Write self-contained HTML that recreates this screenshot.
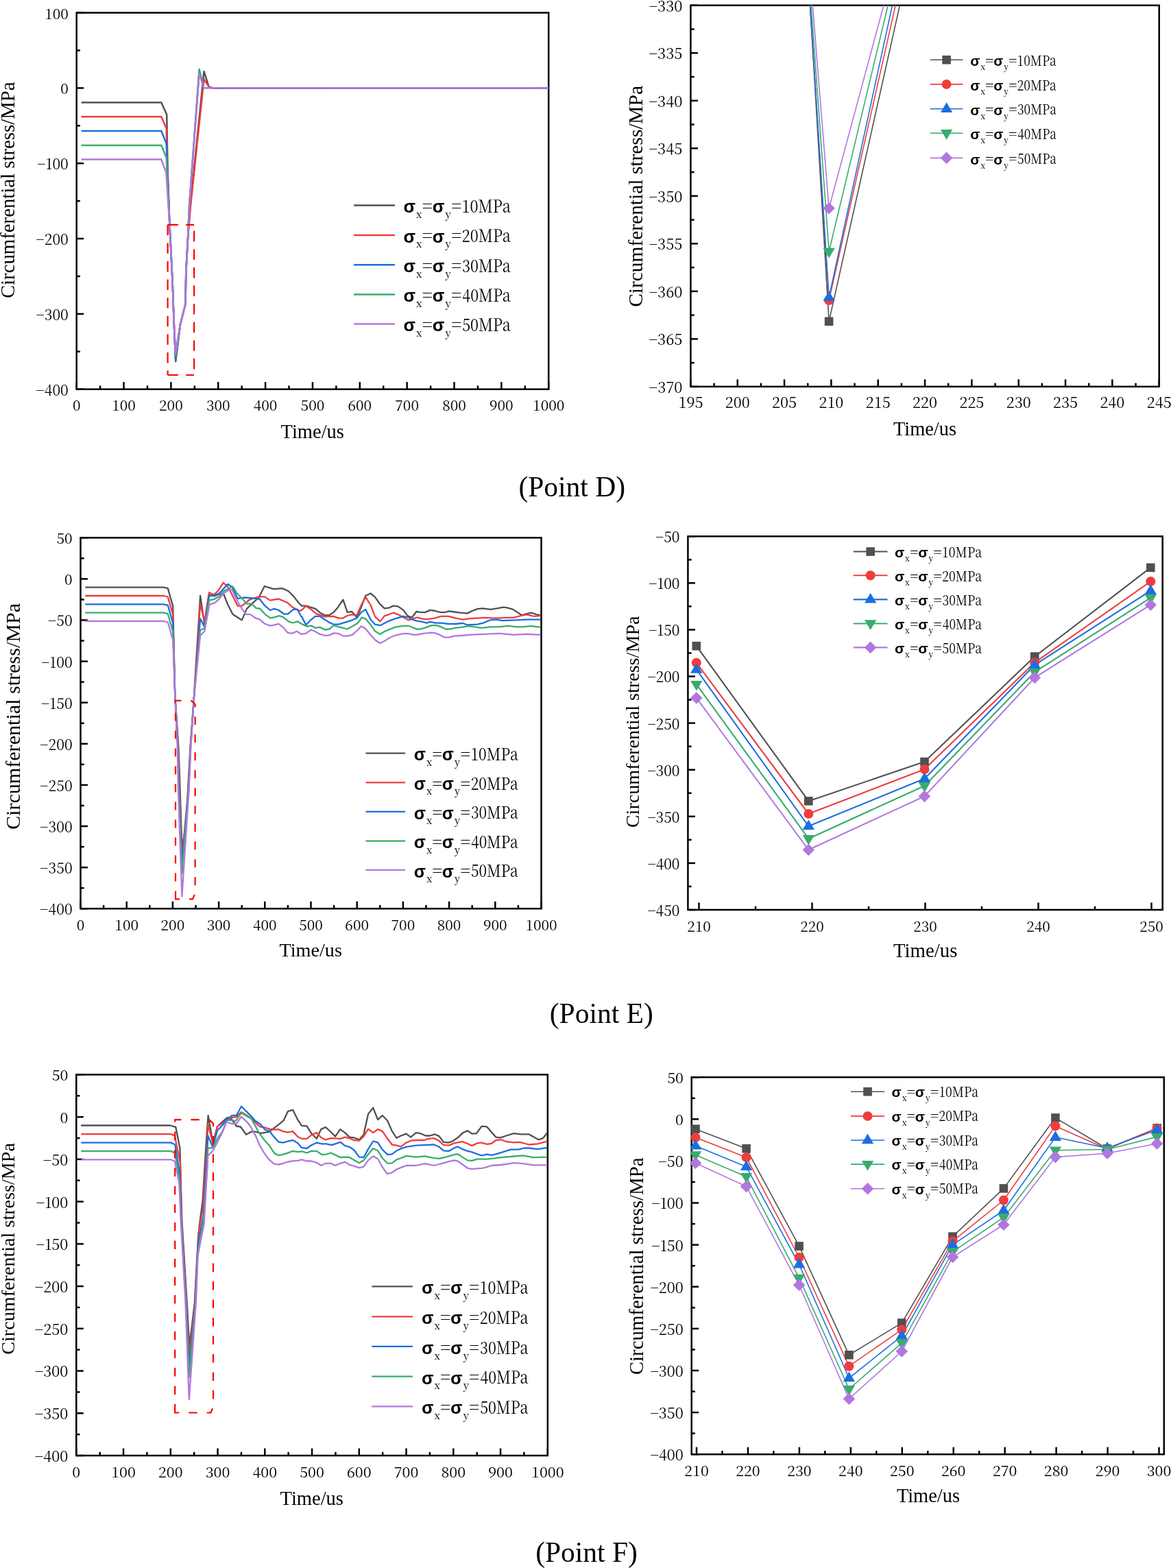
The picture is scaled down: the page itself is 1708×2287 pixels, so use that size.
<!DOCTYPE html>
<html><head><meta charset="utf-8"><title>Circumferential stress at points D, E, F</title>
<style>html,body{margin:0;padding:0;background:#fff;}svg{display:block;}</style></head>
<body><svg width="1708" height="2287" viewBox="0 0 1708 2287">
<rect width="1708" height="2287" fill="#fff"/>
<defs>
<clipPath id="k1"><rect x="111.7" y="18.6" width="688.5" height="549.1"/></clipPath>
<clipPath id="k2"><rect x="1007.4" y="7.8" width="683.3" height="556.1"/></clipPath>
<clipPath id="k3"><rect x="117.5" y="784.3" width="672" height="541"/></clipPath>
<clipPath id="k4"><rect x="1003.4" y="782.3" width="692.3" height="544.7"/></clipPath>
<clipPath id="k5"><rect x="111.3" y="1567.4" width="687.5" height="555.6"/></clipPath>
<clipPath id="k6"><rect x="1008.7" y="1571.2" width="689.1" height="550"/></clipPath>
<clipPath id="m6"><rect x="1007.5" y="1570" width="691.5" height="552.4"/></clipPath>
</defs>
<g stroke="#000" stroke-width="2.5" fill="none"><line x1="111.7" y1="567.7" x2="111.7" y2="557.2"/><line x1="146.12" y1="567.7" x2="146.12" y2="562.5"/><line x1="180.55" y1="567.7" x2="180.55" y2="557.2"/><line x1="214.98" y1="567.7" x2="214.98" y2="562.5"/><line x1="249.4" y1="567.7" x2="249.4" y2="557.2"/><line x1="283.82" y1="567.7" x2="283.82" y2="562.5"/><line x1="318.25" y1="567.7" x2="318.25" y2="557.2"/><line x1="352.68" y1="567.7" x2="352.68" y2="562.5"/><line x1="387.1" y1="567.7" x2="387.1" y2="557.2"/><line x1="421.52" y1="567.7" x2="421.52" y2="562.5"/><line x1="455.95" y1="567.7" x2="455.95" y2="557.2"/><line x1="490.38" y1="567.7" x2="490.38" y2="562.5"/><line x1="524.8" y1="567.7" x2="524.8" y2="557.2"/><line x1="559.23" y1="567.7" x2="559.23" y2="562.5"/><line x1="593.65" y1="567.7" x2="593.65" y2="557.2"/><line x1="628.08" y1="567.7" x2="628.08" y2="562.5"/><line x1="662.5" y1="567.7" x2="662.5" y2="557.2"/><line x1="696.93" y1="567.7" x2="696.93" y2="562.5"/><line x1="731.35" y1="567.7" x2="731.35" y2="557.2"/><line x1="765.78" y1="567.7" x2="765.78" y2="562.5"/><line x1="800.2" y1="567.7" x2="800.2" y2="557.2"/><line x1="111.7" y1="567.7" x2="122.2" y2="567.7"/><line x1="111.7" y1="512.79" x2="116.9" y2="512.79"/><line x1="111.7" y1="457.88" x2="122.2" y2="457.88"/><line x1="111.7" y1="402.97" x2="116.9" y2="402.97"/><line x1="111.7" y1="348.06" x2="122.2" y2="348.06"/><line x1="111.7" y1="293.15" x2="116.9" y2="293.15"/><line x1="111.7" y1="238.24" x2="122.2" y2="238.24"/><line x1="111.7" y1="183.33" x2="116.9" y2="183.33"/><line x1="111.7" y1="128.42" x2="122.2" y2="128.42"/><line x1="111.7" y1="73.51" x2="116.9" y2="73.51"/><line x1="111.7" y1="18.6" x2="122.2" y2="18.6"/></g>
<rect x="111.7" y="18.6" width="688.5" height="549.1" fill="none" stroke="#000" stroke-width="2.5"/>
<g font-family="'Noto Serif CJK SC','Liberation Serif',serif" font-size="21.0" fill="#000"><text x="111.7" y="599.2" text-anchor="middle">0</text><text x="180.55" y="599.2" text-anchor="middle">100</text><text x="249.4" y="599.2" text-anchor="middle">200</text><text x="318.25" y="599.2" text-anchor="middle">300</text><text x="387.1" y="599.2" text-anchor="middle">400</text><text x="455.95" y="599.2" text-anchor="middle">500</text><text x="524.8" y="599.2" text-anchor="middle">600</text><text x="593.65" y="599.2" text-anchor="middle">700</text><text x="662.5" y="599.2" text-anchor="middle">800</text><text x="731.35" y="599.2" text-anchor="middle">900</text><text x="800.2" y="599.2" text-anchor="middle">1000</text><text x="99.8" y="576.6" text-anchor="end">−400</text><text x="99.8" y="466.78" text-anchor="end">−300</text><text x="99.8" y="356.96" text-anchor="end">−200</text><text x="99.8" y="247.14" text-anchor="end">−100</text><text x="99.8" y="137.32" text-anchor="end">0</text><text x="99.8" y="27.5" text-anchor="end">100</text></g>
<g stroke="#000" stroke-width="2.5" fill="none"><line x1="1007.4" y1="563.9" x2="1007.4" y2="553.4"/><line x1="1041.57" y1="563.9" x2="1041.57" y2="558.7"/><line x1="1075.73" y1="563.9" x2="1075.73" y2="553.4"/><line x1="1109.89" y1="563.9" x2="1109.89" y2="558.7"/><line x1="1144.06" y1="563.9" x2="1144.06" y2="553.4"/><line x1="1178.23" y1="563.9" x2="1178.23" y2="558.7"/><line x1="1212.39" y1="563.9" x2="1212.39" y2="553.4"/><line x1="1246.56" y1="563.9" x2="1246.56" y2="558.7"/><line x1="1280.72" y1="563.9" x2="1280.72" y2="553.4"/><line x1="1314.89" y1="563.9" x2="1314.89" y2="558.7"/><line x1="1349.05" y1="563.9" x2="1349.05" y2="553.4"/><line x1="1383.22" y1="563.9" x2="1383.22" y2="558.7"/><line x1="1417.38" y1="563.9" x2="1417.38" y2="553.4"/><line x1="1451.55" y1="563.9" x2="1451.55" y2="558.7"/><line x1="1485.71" y1="563.9" x2="1485.71" y2="553.4"/><line x1="1519.88" y1="563.9" x2="1519.88" y2="558.7"/><line x1="1554.04" y1="563.9" x2="1554.04" y2="553.4"/><line x1="1588.21" y1="563.9" x2="1588.21" y2="558.7"/><line x1="1622.37" y1="563.9" x2="1622.37" y2="553.4"/><line x1="1656.54" y1="563.9" x2="1656.54" y2="558.7"/><line x1="1690.7" y1="563.9" x2="1690.7" y2="553.4"/><line x1="1007.4" y1="563.9" x2="1017.9" y2="563.9"/><line x1="1007.4" y1="529.14" x2="1012.6" y2="529.14"/><line x1="1007.4" y1="494.39" x2="1017.9" y2="494.39"/><line x1="1007.4" y1="459.63" x2="1012.6" y2="459.63"/><line x1="1007.4" y1="424.88" x2="1017.9" y2="424.88"/><line x1="1007.4" y1="390.12" x2="1012.6" y2="390.12"/><line x1="1007.4" y1="355.36" x2="1017.9" y2="355.36"/><line x1="1007.4" y1="320.61" x2="1012.6" y2="320.61"/><line x1="1007.4" y1="285.85" x2="1017.9" y2="285.85"/><line x1="1007.4" y1="251.09" x2="1012.6" y2="251.09"/><line x1="1007.4" y1="216.34" x2="1017.9" y2="216.34"/><line x1="1007.4" y1="181.58" x2="1012.6" y2="181.58"/><line x1="1007.4" y1="146.83" x2="1017.9" y2="146.83"/><line x1="1007.4" y1="112.07" x2="1012.6" y2="112.07"/><line x1="1007.4" y1="77.31" x2="1017.9" y2="77.31"/><line x1="1007.4" y1="42.56" x2="1012.6" y2="42.56"/><line x1="1007.4" y1="7.8" x2="1017.9" y2="7.8"/></g>
<rect x="1007.4" y="7.8" width="683.3" height="556.1" fill="none" stroke="#000" stroke-width="2.5"/>
<g font-family="'Noto Serif CJK SC','Liberation Serif',serif" font-size="21.8" fill="#000"><text x="1007.4" y="595.4" text-anchor="middle">195</text><text x="1075.73" y="595.4" text-anchor="middle">200</text><text x="1144.06" y="595.4" text-anchor="middle">205</text><text x="1212.39" y="595.4" text-anchor="middle">210</text><text x="1280.72" y="595.4" text-anchor="middle">215</text><text x="1349.05" y="595.4" text-anchor="middle">220</text><text x="1417.38" y="595.4" text-anchor="middle">225</text><text x="1485.71" y="595.4" text-anchor="middle">230</text><text x="1554.04" y="595.4" text-anchor="middle">235</text><text x="1622.37" y="595.4" text-anchor="middle">240</text><text x="1690.7" y="595.4" text-anchor="middle">245</text><text x="995.5" y="572.8" text-anchor="end">−370</text><text x="995.5" y="503.29" text-anchor="end">−365</text><text x="995.5" y="433.77" text-anchor="end">−360</text><text x="995.5" y="364.26" text-anchor="end">−355</text><text x="995.5" y="294.75" text-anchor="end">−350</text><text x="995.5" y="225.24" text-anchor="end">−345</text><text x="995.5" y="155.73" text-anchor="end">−340</text><text x="995.5" y="86.21" text-anchor="end">−335</text><text x="995.5" y="16.7" text-anchor="end">−330</text></g>
<g stroke="#000" stroke-width="2.5" fill="none"><line x1="117.5" y1="1325.3" x2="117.5" y2="1314.8"/><line x1="151.1" y1="1325.3" x2="151.1" y2="1320.1"/><line x1="184.7" y1="1325.3" x2="184.7" y2="1314.8"/><line x1="218.3" y1="1325.3" x2="218.3" y2="1320.1"/><line x1="251.9" y1="1325.3" x2="251.9" y2="1314.8"/><line x1="285.5" y1="1325.3" x2="285.5" y2="1320.1"/><line x1="319.1" y1="1325.3" x2="319.1" y2="1314.8"/><line x1="352.7" y1="1325.3" x2="352.7" y2="1320.1"/><line x1="386.3" y1="1325.3" x2="386.3" y2="1314.8"/><line x1="419.9" y1="1325.3" x2="419.9" y2="1320.1"/><line x1="453.5" y1="1325.3" x2="453.5" y2="1314.8"/><line x1="487.1" y1="1325.3" x2="487.1" y2="1320.1"/><line x1="520.7" y1="1325.3" x2="520.7" y2="1314.8"/><line x1="554.3" y1="1325.3" x2="554.3" y2="1320.1"/><line x1="587.9" y1="1325.3" x2="587.9" y2="1314.8"/><line x1="621.5" y1="1325.3" x2="621.5" y2="1320.1"/><line x1="655.1" y1="1325.3" x2="655.1" y2="1314.8"/><line x1="688.7" y1="1325.3" x2="688.7" y2="1320.1"/><line x1="722.3" y1="1325.3" x2="722.3" y2="1314.8"/><line x1="755.9" y1="1325.3" x2="755.9" y2="1320.1"/><line x1="789.5" y1="1325.3" x2="789.5" y2="1314.8"/><line x1="117.5" y1="1325.3" x2="128" y2="1325.3"/><line x1="117.5" y1="1295.24" x2="122.7" y2="1295.24"/><line x1="117.5" y1="1265.19" x2="128" y2="1265.19"/><line x1="117.5" y1="1235.13" x2="122.7" y2="1235.13"/><line x1="117.5" y1="1205.08" x2="128" y2="1205.08"/><line x1="117.5" y1="1175.02" x2="122.7" y2="1175.02"/><line x1="117.5" y1="1144.97" x2="128" y2="1144.97"/><line x1="117.5" y1="1114.91" x2="122.7" y2="1114.91"/><line x1="117.5" y1="1084.86" x2="128" y2="1084.86"/><line x1="117.5" y1="1054.8" x2="122.7" y2="1054.8"/><line x1="117.5" y1="1024.74" x2="128" y2="1024.74"/><line x1="117.5" y1="994.69" x2="122.7" y2="994.69"/><line x1="117.5" y1="964.63" x2="128" y2="964.63"/><line x1="117.5" y1="934.58" x2="122.7" y2="934.58"/><line x1="117.5" y1="904.52" x2="128" y2="904.52"/><line x1="117.5" y1="874.47" x2="122.7" y2="874.47"/><line x1="117.5" y1="844.41" x2="128" y2="844.41"/><line x1="117.5" y1="814.36" x2="122.7" y2="814.36"/><line x1="117.5" y1="784.3" x2="128" y2="784.3"/></g>
<rect x="117.5" y="784.3" width="672" height="541" fill="none" stroke="#000" stroke-width="2.5"/>
<g font-family="'Noto Serif CJK SC','Liberation Serif',serif" font-size="21.0" fill="#000"><text x="117.5" y="1356.8" text-anchor="middle">0</text><text x="184.7" y="1356.8" text-anchor="middle">100</text><text x="251.9" y="1356.8" text-anchor="middle">200</text><text x="319.1" y="1356.8" text-anchor="middle">300</text><text x="386.3" y="1356.8" text-anchor="middle">400</text><text x="453.5" y="1356.8" text-anchor="middle">500</text><text x="520.7" y="1356.8" text-anchor="middle">600</text><text x="587.9" y="1356.8" text-anchor="middle">700</text><text x="655.1" y="1356.8" text-anchor="middle">800</text><text x="722.3" y="1356.8" text-anchor="middle">900</text><text x="789.5" y="1356.8" text-anchor="middle">1000</text><text x="105.6" y="1334.2" text-anchor="end">−400</text><text x="105.6" y="1274.09" text-anchor="end">−350</text><text x="105.6" y="1213.98" text-anchor="end">−300</text><text x="105.6" y="1153.87" text-anchor="end">−250</text><text x="105.6" y="1093.76" text-anchor="end">−200</text><text x="105.6" y="1033.64" text-anchor="end">−150</text><text x="105.6" y="973.53" text-anchor="end">−100</text><text x="105.6" y="913.42" text-anchor="end">−50</text><text x="105.6" y="853.31" text-anchor="end">0</text><text x="105.6" y="793.2" text-anchor="end">50</text></g>
<g stroke="#000" stroke-width="2.5" fill="none"><line x1="1019.5" y1="1327" x2="1019.5" y2="1316.5"/><line x1="1102" y1="1327" x2="1102" y2="1321.8"/><line x1="1184.5" y1="1327" x2="1184.5" y2="1316.5"/><line x1="1267" y1="1327" x2="1267" y2="1321.8"/><line x1="1349.5" y1="1327" x2="1349.5" y2="1316.5"/><line x1="1432" y1="1327" x2="1432" y2="1321.8"/><line x1="1514.5" y1="1327" x2="1514.5" y2="1316.5"/><line x1="1597" y1="1327" x2="1597" y2="1321.8"/><line x1="1679.5" y1="1327" x2="1679.5" y2="1316.5"/><line x1="1003.4" y1="1327" x2="1013.9" y2="1327"/><line x1="1003.4" y1="1292.96" x2="1008.6" y2="1292.96"/><line x1="1003.4" y1="1258.91" x2="1013.9" y2="1258.91"/><line x1="1003.4" y1="1224.87" x2="1008.6" y2="1224.87"/><line x1="1003.4" y1="1190.83" x2="1013.9" y2="1190.83"/><line x1="1003.4" y1="1156.78" x2="1008.6" y2="1156.78"/><line x1="1003.4" y1="1122.74" x2="1013.9" y2="1122.74"/><line x1="1003.4" y1="1088.69" x2="1008.6" y2="1088.69"/><line x1="1003.4" y1="1054.65" x2="1013.9" y2="1054.65"/><line x1="1003.4" y1="1020.61" x2="1008.6" y2="1020.61"/><line x1="1003.4" y1="986.56" x2="1013.9" y2="986.56"/><line x1="1003.4" y1="952.52" x2="1008.6" y2="952.52"/><line x1="1003.4" y1="918.47" x2="1013.9" y2="918.47"/><line x1="1003.4" y1="884.43" x2="1008.6" y2="884.43"/><line x1="1003.4" y1="850.39" x2="1013.9" y2="850.39"/><line x1="1003.4" y1="816.34" x2="1008.6" y2="816.34"/><line x1="1003.4" y1="782.3" x2="1013.9" y2="782.3"/></g>
<rect x="1003.4" y="782.3" width="692.3" height="544.7" fill="none" stroke="#000" stroke-width="2.5"/>
<g font-family="'Noto Serif CJK SC','Liberation Serif',serif" font-size="20.9" fill="#000"><text x="1019.5" y="1358.5" text-anchor="middle">210</text><text x="1184.5" y="1358.5" text-anchor="middle">220</text><text x="1349.5" y="1358.5" text-anchor="middle">230</text><text x="1514.5" y="1358.5" text-anchor="middle">240</text><text x="1679.5" y="1358.5" text-anchor="middle">250</text><text x="991.5" y="1335.9" text-anchor="end">−450</text><text x="991.5" y="1267.81" text-anchor="end">−400</text><text x="991.5" y="1199.73" text-anchor="end">−350</text><text x="991.5" y="1131.64" text-anchor="end">−300</text><text x="991.5" y="1063.55" text-anchor="end">−250</text><text x="991.5" y="995.46" text-anchor="end">−200</text><text x="991.5" y="927.37" text-anchor="end">−150</text><text x="991.5" y="859.29" text-anchor="end">−100</text><text x="991.5" y="791.2" text-anchor="end">−50</text></g>
<g stroke="#000" stroke-width="2.5" fill="none"><line x1="111.3" y1="2123" x2="111.3" y2="2112.5"/><line x1="145.68" y1="2123" x2="145.68" y2="2117.8"/><line x1="180.05" y1="2123" x2="180.05" y2="2112.5"/><line x1="214.43" y1="2123" x2="214.43" y2="2117.8"/><line x1="248.8" y1="2123" x2="248.8" y2="2112.5"/><line x1="283.18" y1="2123" x2="283.18" y2="2117.8"/><line x1="317.55" y1="2123" x2="317.55" y2="2112.5"/><line x1="351.93" y1="2123" x2="351.93" y2="2117.8"/><line x1="386.3" y1="2123" x2="386.3" y2="2112.5"/><line x1="420.68" y1="2123" x2="420.68" y2="2117.8"/><line x1="455.05" y1="2123" x2="455.05" y2="2112.5"/><line x1="489.43" y1="2123" x2="489.43" y2="2117.8"/><line x1="523.8" y1="2123" x2="523.8" y2="2112.5"/><line x1="558.17" y1="2123" x2="558.17" y2="2117.8"/><line x1="592.55" y1="2123" x2="592.55" y2="2112.5"/><line x1="626.92" y1="2123" x2="626.92" y2="2117.8"/><line x1="661.3" y1="2123" x2="661.3" y2="2112.5"/><line x1="695.67" y1="2123" x2="695.67" y2="2117.8"/><line x1="730.05" y1="2123" x2="730.05" y2="2112.5"/><line x1="764.42" y1="2123" x2="764.42" y2="2117.8"/><line x1="798.8" y1="2123" x2="798.8" y2="2112.5"/><line x1="111.3" y1="2123" x2="121.8" y2="2123"/><line x1="111.3" y1="2092.13" x2="116.5" y2="2092.13"/><line x1="111.3" y1="2061.27" x2="121.8" y2="2061.27"/><line x1="111.3" y1="2030.4" x2="116.5" y2="2030.4"/><line x1="111.3" y1="1999.53" x2="121.8" y2="1999.53"/><line x1="111.3" y1="1968.67" x2="116.5" y2="1968.67"/><line x1="111.3" y1="1937.8" x2="121.8" y2="1937.8"/><line x1="111.3" y1="1906.93" x2="116.5" y2="1906.93"/><line x1="111.3" y1="1876.07" x2="121.8" y2="1876.07"/><line x1="111.3" y1="1845.2" x2="116.5" y2="1845.2"/><line x1="111.3" y1="1814.33" x2="121.8" y2="1814.33"/><line x1="111.3" y1="1783.47" x2="116.5" y2="1783.47"/><line x1="111.3" y1="1752.6" x2="121.8" y2="1752.6"/><line x1="111.3" y1="1721.73" x2="116.5" y2="1721.73"/><line x1="111.3" y1="1690.87" x2="121.8" y2="1690.87"/><line x1="111.3" y1="1660" x2="116.5" y2="1660"/><line x1="111.3" y1="1629.13" x2="121.8" y2="1629.13"/><line x1="111.3" y1="1598.27" x2="116.5" y2="1598.27"/><line x1="111.3" y1="1567.4" x2="121.8" y2="1567.4"/></g>
<rect x="111.3" y="1567.4" width="687.5" height="555.6" fill="none" stroke="#000" stroke-width="2.5"/>
<g font-family="'Noto Serif CJK SC','Liberation Serif',serif" font-size="21.6" fill="#000"><text x="111.3" y="2154.5" text-anchor="middle">0</text><text x="180.05" y="2154.5" text-anchor="middle">100</text><text x="248.8" y="2154.5" text-anchor="middle">200</text><text x="317.55" y="2154.5" text-anchor="middle">300</text><text x="386.3" y="2154.5" text-anchor="middle">400</text><text x="455.05" y="2154.5" text-anchor="middle">500</text><text x="523.8" y="2154.5" text-anchor="middle">600</text><text x="592.55" y="2154.5" text-anchor="middle">700</text><text x="661.3" y="2154.5" text-anchor="middle">800</text><text x="730.05" y="2154.5" text-anchor="middle">900</text><text x="798.8" y="2154.5" text-anchor="middle">1000</text><text x="99.4" y="2131.9" text-anchor="end">−400</text><text x="99.4" y="2070.17" text-anchor="end">−350</text><text x="99.4" y="2008.43" text-anchor="end">−300</text><text x="99.4" y="1946.7" text-anchor="end">−250</text><text x="99.4" y="1884.97" text-anchor="end">−200</text><text x="99.4" y="1823.23" text-anchor="end">−150</text><text x="99.4" y="1761.5" text-anchor="end">−100</text><text x="99.4" y="1699.77" text-anchor="end">−50</text><text x="99.4" y="1638.03" text-anchor="end">0</text><text x="99.4" y="1576.3" text-anchor="end">50</text></g>
<g stroke="#000" stroke-width="2.5" fill="none"><line x1="1016" y1="2121.2" x2="1016" y2="2110.7"/><line x1="1053.47" y1="2121.2" x2="1053.47" y2="2116"/><line x1="1090.94" y1="2121.2" x2="1090.94" y2="2110.7"/><line x1="1128.42" y1="2121.2" x2="1128.42" y2="2116"/><line x1="1165.89" y1="2121.2" x2="1165.89" y2="2110.7"/><line x1="1203.36" y1="2121.2" x2="1203.36" y2="2116"/><line x1="1240.83" y1="2121.2" x2="1240.83" y2="2110.7"/><line x1="1278.31" y1="2121.2" x2="1278.31" y2="2116"/><line x1="1315.78" y1="2121.2" x2="1315.78" y2="2110.7"/><line x1="1353.25" y1="2121.2" x2="1353.25" y2="2116"/><line x1="1390.72" y1="2121.2" x2="1390.72" y2="2110.7"/><line x1="1428.19" y1="2121.2" x2="1428.19" y2="2116"/><line x1="1465.67" y1="2121.2" x2="1465.67" y2="2110.7"/><line x1="1503.14" y1="2121.2" x2="1503.14" y2="2116"/><line x1="1540.61" y1="2121.2" x2="1540.61" y2="2110.7"/><line x1="1578.08" y1="2121.2" x2="1578.08" y2="2116"/><line x1="1615.56" y1="2121.2" x2="1615.56" y2="2110.7"/><line x1="1653.03" y1="2121.2" x2="1653.03" y2="2116"/><line x1="1690.5" y1="2121.2" x2="1690.5" y2="2110.7"/><line x1="1008.7" y1="2121.2" x2="1019.2" y2="2121.2"/><line x1="1008.7" y1="2090.64" x2="1013.9" y2="2090.64"/><line x1="1008.7" y1="2060.09" x2="1019.2" y2="2060.09"/><line x1="1008.7" y1="2029.53" x2="1013.9" y2="2029.53"/><line x1="1008.7" y1="1998.98" x2="1019.2" y2="1998.98"/><line x1="1008.7" y1="1968.42" x2="1013.9" y2="1968.42"/><line x1="1008.7" y1="1937.87" x2="1019.2" y2="1937.87"/><line x1="1008.7" y1="1907.31" x2="1013.9" y2="1907.31"/><line x1="1008.7" y1="1876.76" x2="1019.2" y2="1876.76"/><line x1="1008.7" y1="1846.2" x2="1013.9" y2="1846.2"/><line x1="1008.7" y1="1815.64" x2="1019.2" y2="1815.64"/><line x1="1008.7" y1="1785.09" x2="1013.9" y2="1785.09"/><line x1="1008.7" y1="1754.53" x2="1019.2" y2="1754.53"/><line x1="1008.7" y1="1723.98" x2="1013.9" y2="1723.98"/><line x1="1008.7" y1="1693.42" x2="1019.2" y2="1693.42"/><line x1="1008.7" y1="1662.87" x2="1013.9" y2="1662.87"/><line x1="1008.7" y1="1632.31" x2="1019.2" y2="1632.31"/><line x1="1008.7" y1="1601.76" x2="1013.9" y2="1601.76"/><line x1="1008.7" y1="1571.2" x2="1019.2" y2="1571.2"/></g>
<rect x="1008.7" y="1571.2" width="689.1" height="550" fill="none" stroke="#000" stroke-width="2.5"/>
<g font-family="'Noto Serif CJK SC','Liberation Serif',serif" font-size="21.5" fill="#000"><text x="1016" y="2152.7" text-anchor="middle">210</text><text x="1090.94" y="2152.7" text-anchor="middle">220</text><text x="1165.89" y="2152.7" text-anchor="middle">230</text><text x="1240.83" y="2152.7" text-anchor="middle">240</text><text x="1315.78" y="2152.7" text-anchor="middle">250</text><text x="1390.72" y="2152.7" text-anchor="middle">260</text><text x="1465.67" y="2152.7" text-anchor="middle">270</text><text x="1540.61" y="2152.7" text-anchor="middle">280</text><text x="1615.56" y="2152.7" text-anchor="middle">290</text><text x="1690.5" y="2152.7" text-anchor="middle">300</text><text x="996.8" y="2130.1" text-anchor="end">−400</text><text x="996.8" y="2068.99" text-anchor="end">−350</text><text x="996.8" y="2007.88" text-anchor="end">−300</text><text x="996.8" y="1946.77" text-anchor="end">−250</text><text x="996.8" y="1885.66" text-anchor="end">−200</text><text x="996.8" y="1824.54" text-anchor="end">−150</text><text x="996.8" y="1763.43" text-anchor="end">−100</text><text x="996.8" y="1702.32" text-anchor="end">−50</text><text x="996.8" y="1641.21" text-anchor="end">0</text><text x="996.8" y="1580.1" text-anchor="end">50</text></g>
<polyline points="118.6,149.4 235.3,149.4 243.2,166.9 244.6,250 247.4,327 251.6,411 253.7,470 256.2,527.2 262.8,474 270.5,443.3 271.3,397 274,348 277.6,300 297.5,104.2 304.6,126.6 311,128.4 800.2,128.4" fill="none" stroke="#505050" stroke-width="2.5" stroke-linejoin="round" clip-path="url(#k1)"/>
<polyline points="118.6,170.3 235.3,170.3 242.7,187.5 244.3,250 247.4,327 251.6,411 253.7,470 256.1,524.9 262.8,474 270.5,443.3 271.3,397 274,348 278,300 297.5,115.6 304.6,126.6 311,128.4 800.2,128.4" fill="none" stroke="#F03C3C" stroke-width="2.5" stroke-linejoin="round" clip-path="url(#k1)"/>
<polyline points="118.6,191.1 235.3,191.1 242.7,209.2 247.4,327 251.6,411 253.7,470 256.1,524.3 262.8,474 270.5,443.3 271.3,397 274,348 276.1,300 290.6,104 297,128 800.2,128.4" fill="none" stroke="#1A6FDF" stroke-width="2.5" stroke-linejoin="round" clip-path="url(#k1)"/>
<polyline points="118.6,211.9 235.3,211.9 242.7,229.8 247.4,327 251.6,411 253.7,470 256.1,519.3 262.8,474 270.5,443.3 271.3,397 274,348 276.1,300 290.6,100.9 297,128 800.2,128.4" fill="none" stroke="#37AD6B" stroke-width="2.5" stroke-linejoin="round" clip-path="url(#k1)"/>
<polyline points="118.6,232.6 235.3,232.6 242.3,251.5 247.4,327 251.6,411 253.7,470 256.1,514.2 262.8,474 270.5,443.3 271.3,397 274,348 276.1,300 290.6,107.1 297,128 800.2,128.4" fill="none" stroke="#B177DE" stroke-width="2.5" stroke-linejoin="round" clip-path="url(#k1)"/>
<path d="M244.6 327.8H283.1 M244.6 327.8V547 M244.6 547H283.1 M283.1 336.8V547" fill="none" stroke="#FF0000" stroke-width="2.2" stroke-dasharray="15.4 11.2"/>
<text x="409.48" y="639.2" font-family="'Liberation Serif','Times New Roman',serif" font-size="28.54" fill="#000">Time/us</text>
<text transform="translate(20.9,435.08) rotate(-90)" font-family="'Liberation Serif','Times New Roman',serif" font-size="28.78" fill="#000">Circumferential stress/MPa</text>
<line x1="516" y1="299.6" x2="576" y2="299.6" stroke="#505050" stroke-width="2.5"/>
<g font-family="'Noto Serif CJK SC','Liberation Serif',serif" fill="#000"><text x="597.22" y="310.3" text-anchor="middle" font-family="'Liberation Sans','DejaVu Sans',sans-serif" font-weight="bold" font-size="25.73">σ</text><text x="611.32" y="317.96" text-anchor="middle" font-size="15.04">x</text><text x="623.34" y="309.9" text-anchor="middle" font-size="25.93">=</text><text x="639.46" y="310.3" text-anchor="middle" font-family="'Liberation Sans','DejaVu Sans',sans-serif" font-weight="bold" font-size="25.73">σ</text><text x="653.64" y="317.96" text-anchor="middle" font-size="15.04">y</text><text x="665.65" y="309.9" text-anchor="middle" font-size="25.93">=</text><text x="673.54" y="309.9" font-size="25.93" textLength="71.38" lengthAdjust="spacingAndGlyphs">10MPa</text></g>
<line x1="516" y1="343" x2="576" y2="343" stroke="#F03C3C" stroke-width="2.5"/>
<g font-family="'Noto Serif CJK SC','Liberation Serif',serif" fill="#000"><text x="597.22" y="353.7" text-anchor="middle" font-family="'Liberation Sans','DejaVu Sans',sans-serif" font-weight="bold" font-size="25.73">σ</text><text x="611.32" y="361.36" text-anchor="middle" font-size="15.04">x</text><text x="623.34" y="353.3" text-anchor="middle" font-size="25.93">=</text><text x="639.46" y="353.7" text-anchor="middle" font-family="'Liberation Sans','DejaVu Sans',sans-serif" font-weight="bold" font-size="25.73">σ</text><text x="653.64" y="361.36" text-anchor="middle" font-size="15.04">y</text><text x="665.65" y="353.3" text-anchor="middle" font-size="25.93">=</text><text x="673.72" y="353.3" font-size="25.93" textLength="71.2" lengthAdjust="spacingAndGlyphs">20MPa</text></g>
<line x1="516" y1="386.2" x2="576" y2="386.2" stroke="#1A6FDF" stroke-width="2.5"/>
<g font-family="'Noto Serif CJK SC','Liberation Serif',serif" fill="#000"><text x="597.22" y="396.9" text-anchor="middle" font-family="'Liberation Sans','DejaVu Sans',sans-serif" font-weight="bold" font-size="25.73">σ</text><text x="611.32" y="404.56" text-anchor="middle" font-size="15.04">x</text><text x="623.34" y="396.5" text-anchor="middle" font-size="25.93">=</text><text x="639.46" y="396.9" text-anchor="middle" font-family="'Liberation Sans','DejaVu Sans',sans-serif" font-weight="bold" font-size="25.73">σ</text><text x="653.64" y="404.56" text-anchor="middle" font-size="15.04">y</text><text x="665.65" y="396.5" text-anchor="middle" font-size="25.93">=</text><text x="674.09" y="396.5" font-size="25.93" textLength="70.82" lengthAdjust="spacingAndGlyphs">30MPa</text></g>
<line x1="516" y1="429.4" x2="576" y2="429.4" stroke="#37AD6B" stroke-width="2.5"/>
<g font-family="'Noto Serif CJK SC','Liberation Serif',serif" fill="#000"><text x="597.22" y="440.1" text-anchor="middle" font-family="'Liberation Sans','DejaVu Sans',sans-serif" font-weight="bold" font-size="25.73">σ</text><text x="611.32" y="447.76" text-anchor="middle" font-size="15.04">x</text><text x="623.34" y="439.7" text-anchor="middle" font-size="25.93">=</text><text x="639.46" y="440.1" text-anchor="middle" font-family="'Liberation Sans','DejaVu Sans',sans-serif" font-weight="bold" font-size="25.73">σ</text><text x="653.64" y="447.76" text-anchor="middle" font-size="15.04">y</text><text x="665.65" y="439.7" text-anchor="middle" font-size="25.93">=</text><text x="674.37" y="439.7" font-size="25.93" textLength="70.54" lengthAdjust="spacingAndGlyphs">40MPa</text></g>
<line x1="516" y1="472.6" x2="576" y2="472.6" stroke="#B177DE" stroke-width="2.5"/>
<g font-family="'Noto Serif CJK SC','Liberation Serif',serif" fill="#000"><text x="597.22" y="483.3" text-anchor="middle" font-family="'Liberation Sans','DejaVu Sans',sans-serif" font-weight="bold" font-size="25.73">σ</text><text x="611.32" y="490.96" text-anchor="middle" font-size="15.04">x</text><text x="623.34" y="482.9" text-anchor="middle" font-size="25.93">=</text><text x="639.46" y="483.3" text-anchor="middle" font-family="'Liberation Sans','DejaVu Sans',sans-serif" font-weight="bold" font-size="25.73">σ</text><text x="653.64" y="490.96" text-anchor="middle" font-size="15.04">y</text><text x="665.65" y="482.9" text-anchor="middle" font-size="25.93">=</text><text x="674.16" y="482.9" font-size="25.93" textLength="70.76" lengthAdjust="spacingAndGlyphs">50MPa</text></g>
<polyline points="1177.56,-60 1209.1,468.8 1327.59,-60" fill="none" stroke="#505050" stroke-width="1.6" stroke-linejoin="round" clip-path="url(#k2)"/>
<polyline points="1177.27,-60 1209.1,438 1321.39,-60" fill="none" stroke="#F03C3C" stroke-width="1.6" stroke-linejoin="round" clip-path="url(#k2)"/>
<polyline points="1177.22,-60 1209.1,433.8 1316.21,-60" fill="none" stroke="#1A6FDF" stroke-width="1.6" stroke-linejoin="round" clip-path="url(#k2)"/>
<polyline points="1178.19,-60 1209.1,367 1311.45,-60" fill="none" stroke="#37AD6B" stroke-width="1.6" stroke-linejoin="round" clip-path="url(#k2)"/>
<polyline points="1179.85,-60 1209.1,303.7 1307.18,-60" fill="none" stroke="#B177DE" stroke-width="1.6" stroke-linejoin="round" clip-path="url(#k2)"/>
<rect x="1202.8" y="462.5" width="12.6" height="12.6" fill="#505050"/>
<circle cx="1209.1" cy="438" r="7" fill="#F03C3C"/>
<path d="M1209.1 424.3L1217.8 439L1200.4 439Z" fill="#1A6FDF"/>
<path d="M1209.1 376.5L1217.8 361.8L1200.4 361.8Z" fill="#37AD6B"/>
<path d="M1209.1 294.9L1217.9 303.7L1209.1 312.5L1200.3 303.7Z" fill="#B177DE"/>
<text x="1302.99" y="634.8" font-family="'Liberation Serif','Times New Roman',serif" font-size="28.39" fill="#000">Time/us</text>
<text transform="translate(937.1,447.81) rotate(-90)" font-family="'Liberation Serif','Times New Roman',serif" font-size="29.43" fill="#000">Circumferential stress/MPa</text>
<line x1="1356.7" y1="87.3" x2="1404.5" y2="87.3" stroke="#505050" stroke-width="1.6"/>
<rect x="1374.3" y="81" width="12.6" height="12.6" fill="#505050"/>
<g font-family="'Noto Serif CJK SC','Liberation Serif',serif" fill="#000"><text x="1422.33" y="96.4" text-anchor="middle" font-family="'Liberation Sans','DejaVu Sans',sans-serif" font-weight="bold" font-size="20.65">σ</text><text x="1433.65" y="102.47" text-anchor="middle" font-size="12.07">x</text><text x="1443.29" y="96" text-anchor="middle" font-size="20.81">=</text><text x="1456.23" y="96.4" text-anchor="middle" font-family="'Liberation Sans','DejaVu Sans',sans-serif" font-weight="bold" font-size="20.65">σ</text><text x="1467.62" y="102.47" text-anchor="middle" font-size="12.07">y</text><text x="1477.26" y="96" text-anchor="middle" font-size="20.81">=</text><text x="1483.59" y="96" font-size="20.81" textLength="57.29" lengthAdjust="spacingAndGlyphs">10MPa</text></g>
<line x1="1356.7" y1="122.9" x2="1404.5" y2="122.9" stroke="#F03C3C" stroke-width="1.6"/>
<circle cx="1380.6" cy="122.9" r="7" fill="#F03C3C"/>
<g font-family="'Noto Serif CJK SC','Liberation Serif',serif" fill="#000"><text x="1422.33" y="132" text-anchor="middle" font-family="'Liberation Sans','DejaVu Sans',sans-serif" font-weight="bold" font-size="20.65">σ</text><text x="1433.65" y="138.07" text-anchor="middle" font-size="12.07">x</text><text x="1443.29" y="131.6" text-anchor="middle" font-size="20.81">=</text><text x="1456.23" y="132" text-anchor="middle" font-family="'Liberation Sans','DejaVu Sans',sans-serif" font-weight="bold" font-size="20.65">σ</text><text x="1467.62" y="138.07" text-anchor="middle" font-size="12.07">y</text><text x="1477.26" y="131.6" text-anchor="middle" font-size="20.81">=</text><text x="1483.73" y="131.6" font-size="20.81" textLength="57.14" lengthAdjust="spacingAndGlyphs">20MPa</text></g>
<line x1="1356.7" y1="158.7" x2="1404.5" y2="158.7" stroke="#1A6FDF" stroke-width="1.6"/>
<path d="M1380.6 149.2L1389.3 163.9L1371.9 163.9Z" fill="#1A6FDF"/>
<g font-family="'Noto Serif CJK SC','Liberation Serif',serif" fill="#000"><text x="1422.33" y="167.8" text-anchor="middle" font-family="'Liberation Sans','DejaVu Sans',sans-serif" font-weight="bold" font-size="20.65">σ</text><text x="1433.65" y="173.87" text-anchor="middle" font-size="12.07">x</text><text x="1443.29" y="167.4" text-anchor="middle" font-size="20.81">=</text><text x="1456.23" y="167.8" text-anchor="middle" font-family="'Liberation Sans','DejaVu Sans',sans-serif" font-weight="bold" font-size="20.65">σ</text><text x="1467.62" y="173.87" text-anchor="middle" font-size="12.07">y</text><text x="1477.26" y="167.4" text-anchor="middle" font-size="20.81">=</text><text x="1484.03" y="167.4" font-size="20.81" textLength="56.84" lengthAdjust="spacingAndGlyphs">30MPa</text></g>
<line x1="1356.7" y1="194.3" x2="1404.5" y2="194.3" stroke="#37AD6B" stroke-width="1.6"/>
<path d="M1380.6 203.8L1389.3 189.1L1371.9 189.1Z" fill="#37AD6B"/>
<g font-family="'Noto Serif CJK SC','Liberation Serif',serif" fill="#000"><text x="1422.33" y="203.4" text-anchor="middle" font-family="'Liberation Sans','DejaVu Sans',sans-serif" font-weight="bold" font-size="20.65">σ</text><text x="1433.65" y="209.47" text-anchor="middle" font-size="12.07">x</text><text x="1443.29" y="203" text-anchor="middle" font-size="20.81">=</text><text x="1456.23" y="203.4" text-anchor="middle" font-family="'Liberation Sans','DejaVu Sans',sans-serif" font-weight="bold" font-size="20.65">σ</text><text x="1467.62" y="209.47" text-anchor="middle" font-size="12.07">y</text><text x="1477.26" y="203" text-anchor="middle" font-size="20.81">=</text><text x="1484.26" y="203" font-size="20.81" textLength="56.61" lengthAdjust="spacingAndGlyphs">40MPa</text></g>
<line x1="1356.7" y1="230.4" x2="1404.5" y2="230.4" stroke="#B177DE" stroke-width="1.6"/>
<path d="M1380.6 221.6L1389.4 230.4L1380.6 239.2L1371.8 230.4Z" fill="#B177DE"/>
<g font-family="'Noto Serif CJK SC','Liberation Serif',serif" fill="#000"><text x="1422.33" y="239.5" text-anchor="middle" font-family="'Liberation Sans','DejaVu Sans',sans-serif" font-weight="bold" font-size="20.65">σ</text><text x="1433.65" y="245.57" text-anchor="middle" font-size="12.07">x</text><text x="1443.29" y="239.1" text-anchor="middle" font-size="20.81">=</text><text x="1456.23" y="239.5" text-anchor="middle" font-family="'Liberation Sans','DejaVu Sans',sans-serif" font-weight="bold" font-size="20.65">σ</text><text x="1467.62" y="245.57" text-anchor="middle" font-size="12.07">y</text><text x="1477.26" y="239.1" text-anchor="middle" font-size="20.81">=</text><text x="1484.08" y="239.1" font-size="20.81" textLength="56.79" lengthAdjust="spacingAndGlyphs">50MPa</text></g>
<polyline points="124.2,856.6 238.6,856.6 244.8,858.1 252.2,884.1 255.3,1015 260.4,1090 262.6,1150 265.4,1238 272.2,1195 274.2,1150 277.5,1090 283,1015 292.1,869 298.3,910.6 304.5,867.3 312.7,869.4 320,866.3 326.1,866.3 332.3,881.7 339.5,896.1 352.8,904.4 360,887.9 367.3,880.7 377.5,871.5 385.8,855 399.2,859.1 411.5,858.1 420.8,862.2 428,869.4 435.2,878.7 440,883.6 446.4,883.6 460.1,887.8 467.5,894.2 473.9,897.3 480.3,897.3 486.6,893.1 493,885.7 500.4,874.7 506.7,893.1 513.1,892 520.5,900.5 526.9,885.7 533.2,868.7 540.6,865.5 547,870.8 554.4,881.4 560.8,887.4 567.1,886.7 573.5,883.6 580.9,884.6 588.3,889.9 594.7,898.4 601,900.5 607.4,892 613.7,893.1 620.1,893.1 627.5,889.9 634.9,891 642.3,893.1 648.7,893.1 655,891.4 662.5,892.5 670.9,893.7 681.5,894.6 688.9,891 696.4,888.2 703.8,887.4 715.4,888.9 725,887.4 734.5,885.7 740.8,886.7 748.3,888.9 754.6,893.1 761,897.3 768.4,895.2 775.8,893.7 782.2,896.3 788.5,897.3" fill="none" stroke="#505050" stroke-width="2.3" stroke-linejoin="round" clip-path="url(#k3)"/>
<polyline points="124.2,869 238.6,869 244.8,870.5 252.2,896.5 255.3,1015 259.92,1090 261.79,1150 265.4,1254 274.65,1150 277.74,1090 283.1,1015.6 292.1,880.7 298.3,906.4 305.1,864.2 311.7,867.3 317.9,862.2 325.7,849.8 332.3,856 338.4,867.3 346.7,883.8 352.8,883.8 364.2,874.5 377.5,870.4 385.8,870.4 394,875.6 406.4,873.5 418.7,878.7 426.9,885.9 437.2,891 440,889.9 446.4,884 453.8,888.9 461.2,895.2 467.5,897.3 473.9,899.4 486.6,898.8 494,901.6 500.4,901.6 506.7,898 513.1,896.3 520.5,897.3 526.9,882.5 533.2,870.8 540.6,882.5 547,899.4 554.4,906.4 560.8,898.4 567.1,896.3 573.5,893.7 580.9,896.3 588.3,900.5 595.7,904.3 602.1,902.6 608.4,900.5 615.8,902.6 622.2,903.3 633.9,901.6 643.4,898.8 654,898.8 664.6,901.6 675.2,903.7 685.8,902.2 707,900.9 723.9,901.6 736.6,900.9 749.3,900.9 759.9,898 768.4,896.3 779,898.8 788.5,898" fill="none" stroke="#F03C3C" stroke-width="2.3" stroke-linejoin="round" clip-path="url(#k3)"/>
<polyline points="124.2,881.3 238.6,881.3 244.8,882.8 252.2,908.8 255.3,1015 259.52,1090 261.12,1150 265.4,1264 275.02,1150 277.94,1090 283.1,1015.6 292.1,902.3 298.3,914.7 305.1,869.4 312.7,868.4 320,865.3 332.3,851.9 338.4,856 346.7,873.1 357,871.5 367.3,872.5 378.6,873.5 385.8,882.8 394,890 400.2,887.9 406.4,890 414.6,895.7 419.7,895.7 428,888.9 434.1,888.9 439.3,899.2 440,899.4 446.4,911.5 452.7,904.7 460.1,898.8 466.5,898.8 473.9,903.7 480.3,907.9 486.6,910.7 494,910.7 500.4,908.6 507.8,906.4 514.2,904.3 520.5,901.6 526.9,893.1 533.2,888.9 540.6,903.7 547,910.7 554.4,912.2 560.8,909 567.1,905.8 575.6,902.6 588.3,898.8 595.7,900.5 603.1,904.3 609.5,905.8 615.8,906.9 622.2,908.6 627.5,906.9 634.9,908.6 643.4,908.6 654,910 664.6,910 675.2,909 681.5,911.5 696.4,910.7 704.8,908.6 715.4,904.3 723.9,903.7 732.4,905.2 747.2,904.7 768.4,903.7 788.5,903.7" fill="none" stroke="#1A6FDF" stroke-width="2.3" stroke-linejoin="round" clip-path="url(#k3)"/>
<polyline points="124.2,893.7 238.6,893.7 244.8,895.2 252.2,921.2 255.3,1015 259.2,1090 260.57,1150 265.4,1274 275.32,1150 278.1,1090 283.1,1015.6 292.1,918.8 298.3,916.7 305.1,875.6 312.7,873.9 320,869.4 326.1,862.2 339.5,855.4 345.6,865.3 352.8,872.5 360,880.7 367.3,880.7 373.4,886.9 379.6,887.9 385.8,895.1 394,901.3 400.2,900.3 407.4,898.2 413.6,900.3 420.8,906.4 426.9,908.5 434.1,906.4 440,910 447.4,913.6 453.8,912.6 460.1,915.8 466.5,914.9 473.9,918.5 480.3,917.5 486.6,912.2 494,914.3 500.4,915.8 506.7,917.5 514.2,913.2 521.6,909 527.9,900.5 533.2,902.6 540.6,911.1 547,920.6 554.4,924.9 561.8,920.6 569.2,917.5 577.7,914.3 588.3,912.8 595.7,912.8 602.1,915.3 608.4,917.9 615.8,917 622.2,914.9 629.6,912.2 637,912.2 643.4,914.3 649.7,917.5 657.2,917.5 663.5,915.8 673,914.9 683.6,913.2 692.1,914.3 702.7,915.8 715.4,914.3 728.1,914.3 740.8,912.8 753.6,914.3 762,914.3 774.7,913.2 788.5,914.9" fill="none" stroke="#37AD6B" stroke-width="2.3" stroke-linejoin="round" clip-path="url(#k3)"/>
<polyline points="124.2,906 238.6,906 244.8,907.5 252.2,933.5 255.3,1015 258.8,1090 259.9,1150 265.4,1307.5 275.7,1150 278.3,1090 283.1,1015.6 292.1,927 298.3,920.8 305.5,881.7 312.7,879.7 318.9,874.5 326.1,865.3 332.3,861.2 338.4,860.1 346.7,877.6 352.8,887.9 359,896.1 365.2,896.1 372.4,901.3 378.6,903.4 385.8,909.5 394,912.6 400.2,911.6 406.4,909.9 413.6,915.7 419.7,922.9 425.9,923.9 433.1,920.8 439.3,925 440,924.9 446.4,923.8 453.8,918.5 460.1,921.3 466.5,924.9 473.9,927 480.3,926.6 486.6,923.4 494,924.2 500.4,927.6 507.8,927.6 514.2,925.9 520.5,920 526.9,913.2 533.2,917 540.6,925.9 547,933.3 554.4,938.2 561.8,934.4 569.2,929.7 575.6,927 588.3,924.2 595.7,924.2 603.1,925.9 609.5,925.5 618,923.8 628.6,922.8 634.9,923.4 641.3,925.9 648.7,929.7 655,929.7 662.5,927.6 673,927 685.8,925.9 707,924.9 728.1,923.8 749.3,925.9 766.3,924.9 788.5,925.9" fill="none" stroke="#B177DE" stroke-width="2.3" stroke-linejoin="round" clip-path="url(#k3)"/>
<path d="M256 1311.4V1021.9 H278.6 L284.6 1027.3 V1303 L281 1311.4 Z" fill="none" stroke="#FF0000" stroke-width="2.2" stroke-dasharray="12 14" stroke-dashoffset="0"/>
<text x="407.59" y="1395" font-family="'Liberation Serif','Times New Roman',serif" font-size="28.17" fill="#000">Time/us</text>
<text transform="translate(29.3,1210.03) rotate(-90)" font-family="'Liberation Serif','Times New Roman',serif" font-size="30.1" fill="#000">Circumferential stress/MPa</text>
<line x1="533.4" y1="1098.6" x2="591.1" y2="1098.6" stroke="#505050" stroke-width="2.3"/>
<g font-family="'Noto Serif CJK SC','Liberation Serif',serif" fill="#000"><text x="612.3" y="1109.2" text-anchor="middle" font-family="'Liberation Sans','DejaVu Sans',sans-serif" font-weight="bold" font-size="25">σ</text><text x="626.01" y="1116.63" text-anchor="middle" font-size="14.61">x</text><text x="637.68" y="1108.8" text-anchor="middle" font-size="25.19">=</text><text x="653.34" y="1109.2" text-anchor="middle" font-family="'Liberation Sans','DejaVu Sans',sans-serif" font-weight="bold" font-size="25">σ</text><text x="667.12" y="1116.63" text-anchor="middle" font-size="14.61">y</text><text x="678.79" y="1108.8" text-anchor="middle" font-size="25.19">=</text><text x="686.46" y="1108.8" font-size="25.19" textLength="69.35" lengthAdjust="spacingAndGlyphs">10MPa</text></g>
<line x1="533.4" y1="1141.4" x2="591.1" y2="1141.4" stroke="#F03C3C" stroke-width="2.3"/>
<g font-family="'Noto Serif CJK SC','Liberation Serif',serif" fill="#000"><text x="612.3" y="1152" text-anchor="middle" font-family="'Liberation Sans','DejaVu Sans',sans-serif" font-weight="bold" font-size="25">σ</text><text x="626.01" y="1159.43" text-anchor="middle" font-size="14.61">x</text><text x="637.68" y="1151.6" text-anchor="middle" font-size="25.19">=</text><text x="653.34" y="1152" text-anchor="middle" font-family="'Liberation Sans','DejaVu Sans',sans-serif" font-weight="bold" font-size="25">σ</text><text x="667.12" y="1159.43" text-anchor="middle" font-size="14.61">y</text><text x="678.79" y="1151.6" text-anchor="middle" font-size="25.19">=</text><text x="686.63" y="1151.6" font-size="25.19" textLength="69.18" lengthAdjust="spacingAndGlyphs">20MPa</text></g>
<line x1="533.4" y1="1183.9" x2="591.1" y2="1183.9" stroke="#1A6FDF" stroke-width="2.3"/>
<g font-family="'Noto Serif CJK SC','Liberation Serif',serif" fill="#000"><text x="612.3" y="1194.5" text-anchor="middle" font-family="'Liberation Sans','DejaVu Sans',sans-serif" font-weight="bold" font-size="25">σ</text><text x="626.01" y="1201.93" text-anchor="middle" font-size="14.61">x</text><text x="637.68" y="1194.1" text-anchor="middle" font-size="25.19">=</text><text x="653.34" y="1194.5" text-anchor="middle" font-family="'Liberation Sans','DejaVu Sans',sans-serif" font-weight="bold" font-size="25">σ</text><text x="667.12" y="1201.93" text-anchor="middle" font-size="14.61">y</text><text x="678.79" y="1194.1" text-anchor="middle" font-size="25.19">=</text><text x="687" y="1194.1" font-size="25.19" textLength="68.81" lengthAdjust="spacingAndGlyphs">30MPa</text></g>
<line x1="533.4" y1="1226.7" x2="591.1" y2="1226.7" stroke="#37AD6B" stroke-width="2.3"/>
<g font-family="'Noto Serif CJK SC','Liberation Serif',serif" fill="#000"><text x="612.3" y="1237.3" text-anchor="middle" font-family="'Liberation Sans','DejaVu Sans',sans-serif" font-weight="bold" font-size="25">σ</text><text x="626.01" y="1244.73" text-anchor="middle" font-size="14.61">x</text><text x="637.68" y="1236.9" text-anchor="middle" font-size="25.19">=</text><text x="653.34" y="1237.3" text-anchor="middle" font-family="'Liberation Sans','DejaVu Sans',sans-serif" font-weight="bold" font-size="25">σ</text><text x="667.12" y="1244.73" text-anchor="middle" font-size="14.61">y</text><text x="678.79" y="1236.9" text-anchor="middle" font-size="25.19">=</text><text x="687.27" y="1236.9" font-size="25.19" textLength="68.54" lengthAdjust="spacingAndGlyphs">40MPa</text></g>
<line x1="533.4" y1="1268.9" x2="591.1" y2="1268.9" stroke="#B177DE" stroke-width="2.3"/>
<g font-family="'Noto Serif CJK SC','Liberation Serif',serif" fill="#000"><text x="612.3" y="1279.5" text-anchor="middle" font-family="'Liberation Sans','DejaVu Sans',sans-serif" font-weight="bold" font-size="25">σ</text><text x="626.01" y="1286.93" text-anchor="middle" font-size="14.61">x</text><text x="637.68" y="1279.1" text-anchor="middle" font-size="25.19">=</text><text x="653.34" y="1279.5" text-anchor="middle" font-family="'Liberation Sans','DejaVu Sans',sans-serif" font-weight="bold" font-size="25">σ</text><text x="667.12" y="1286.93" text-anchor="middle" font-size="14.61">y</text><text x="678.79" y="1279.1" text-anchor="middle" font-size="25.19">=</text><text x="687.06" y="1279.1" font-size="25.19" textLength="68.75" lengthAdjust="spacingAndGlyphs">50MPa</text></g>
<polyline points="1015.8,942.2 1179.3,1168.4 1348.5,1111.1 1509.2,957.6 1678.3,827.9" fill="none" stroke="#505050" stroke-width="2.1" stroke-linejoin="round" clip-path="url(#k4)"/>
<polyline points="1015.8,966.7 1179.3,1187 1348.5,1122 1509.2,966.3 1678.3,848.1" fill="none" stroke="#F03C3C" stroke-width="2.1" stroke-linejoin="round" clip-path="url(#k4)"/>
<polyline points="1015.8,976.5 1179.3,1205 1348.5,1135.8 1509.2,969.8 1678.3,861.7" fill="none" stroke="#1A6FDF" stroke-width="2.1" stroke-linejoin="round" clip-path="url(#k4)"/>
<polyline points="1015.8,998.1 1179.3,1223.2 1348.5,1146.2 1509.2,980.2 1678.3,871.9" fill="none" stroke="#37AD6B" stroke-width="2.1" stroke-linejoin="round" clip-path="url(#k4)"/>
<polyline points="1015.8,1018 1179.3,1239.5 1348.5,1161.4 1509.2,988.4 1678.3,882.2" fill="none" stroke="#B177DE" stroke-width="2.1" stroke-linejoin="round" clip-path="url(#k4)"/>
<rect x="1009.5" y="935.9" width="12.6" height="12.6" fill="#505050"/>
<rect x="1173" y="1162.1" width="12.6" height="12.6" fill="#505050"/>
<rect x="1342.2" y="1104.8" width="12.6" height="12.6" fill="#505050"/>
<rect x="1502.9" y="951.3" width="12.6" height="12.6" fill="#505050"/>
<rect x="1672" y="821.6" width="12.6" height="12.6" fill="#505050"/>
<circle cx="1015.8" cy="966.7" r="7" fill="#F03C3C"/>
<circle cx="1179.3" cy="1187" r="7" fill="#F03C3C"/>
<circle cx="1348.5" cy="1122" r="7" fill="#F03C3C"/>
<circle cx="1509.2" cy="966.3" r="7" fill="#F03C3C"/>
<circle cx="1678.3" cy="848.1" r="7" fill="#F03C3C"/>
<path d="M1015.8 967L1024.5 981.7L1007.1 981.7Z" fill="#1A6FDF"/>
<path d="M1179.3 1195.5L1188 1210.2L1170.6 1210.2Z" fill="#1A6FDF"/>
<path d="M1348.5 1126.3L1357.2 1141L1339.8 1141Z" fill="#1A6FDF"/>
<path d="M1509.2 960.3L1517.9 975L1500.5 975Z" fill="#1A6FDF"/>
<path d="M1678.3 852.2L1687 866.9L1669.6 866.9Z" fill="#1A6FDF"/>
<path d="M1015.8 1007.6L1024.5 992.9L1007.1 992.9Z" fill="#37AD6B"/>
<path d="M1179.3 1232.7L1188 1218L1170.6 1218Z" fill="#37AD6B"/>
<path d="M1348.5 1155.7L1357.2 1141L1339.8 1141Z" fill="#37AD6B"/>
<path d="M1509.2 989.7L1517.9 975L1500.5 975Z" fill="#37AD6B"/>
<path d="M1678.3 881.4L1687 866.7L1669.6 866.7Z" fill="#37AD6B"/>
<path d="M1015.8 1009.2L1024.6 1018L1015.8 1026.8L1007 1018Z" fill="#B177DE"/>
<path d="M1179.3 1230.7L1188.1 1239.5L1179.3 1248.3L1170.5 1239.5Z" fill="#B177DE"/>
<path d="M1348.5 1152.6L1357.3 1161.4L1348.5 1170.2L1339.7 1161.4Z" fill="#B177DE"/>
<path d="M1509.2 979.6L1518 988.4L1509.2 997.2L1500.4 988.4Z" fill="#B177DE"/>
<path d="M1678.3 873.4L1687.1 882.2L1678.3 891L1669.5 882.2Z" fill="#B177DE"/>
<text x="1302.98" y="1395.8" font-family="'Liberation Serif','Times New Roman',serif" font-size="28.82" fill="#000">Time/us</text>
<text transform="translate(931.7,1207.15) rotate(-90)" font-family="'Liberation Serif','Times New Roman',serif" font-size="28.15" fill="#000">Circumferential stress/MPa</text>
<line x1="1244.8" y1="804.5" x2="1294.5" y2="804.5" stroke="#505050" stroke-width="2.1"/>
<rect x="1263.35" y="798.2" width="12.6" height="12.6" fill="#505050"/>
<g font-family="'Noto Serif CJK SC','Liberation Serif',serif" fill="#000"><text x="1312.11" y="813.1" text-anchor="middle" font-family="'Liberation Sans','DejaVu Sans',sans-serif" font-weight="bold" font-size="20.9">σ</text><text x="1323.56" y="819.25" text-anchor="middle" font-size="12.21">x</text><text x="1333.32" y="812.7" text-anchor="middle" font-size="21.06">=</text><text x="1346.41" y="813.1" text-anchor="middle" font-family="'Liberation Sans','DejaVu Sans',sans-serif" font-weight="bold" font-size="20.9">σ</text><text x="1357.93" y="819.25" text-anchor="middle" font-size="12.21">y</text><text x="1367.69" y="812.7" text-anchor="middle" font-size="21.06">=</text><text x="1374.1" y="812.7" font-size="21.06" textLength="57.98" lengthAdjust="spacingAndGlyphs">10MPa</text></g>
<line x1="1244.8" y1="839.3" x2="1294.5" y2="839.3" stroke="#F03C3C" stroke-width="2.1"/>
<circle cx="1269.65" cy="839.3" r="7" fill="#F03C3C"/>
<g font-family="'Noto Serif CJK SC','Liberation Serif',serif" fill="#000"><text x="1312.11" y="847.9" text-anchor="middle" font-family="'Liberation Sans','DejaVu Sans',sans-serif" font-weight="bold" font-size="20.9">σ</text><text x="1323.56" y="854.05" text-anchor="middle" font-size="12.21">x</text><text x="1333.32" y="847.5" text-anchor="middle" font-size="21.06">=</text><text x="1346.41" y="847.9" text-anchor="middle" font-family="'Liberation Sans','DejaVu Sans',sans-serif" font-weight="bold" font-size="20.9">σ</text><text x="1357.93" y="854.05" text-anchor="middle" font-size="12.21">y</text><text x="1367.69" y="847.5" text-anchor="middle" font-size="21.06">=</text><text x="1374.25" y="847.5" font-size="21.06" textLength="57.83" lengthAdjust="spacingAndGlyphs">20MPa</text></g>
<line x1="1244.8" y1="874.4" x2="1294.5" y2="874.4" stroke="#1A6FDF" stroke-width="2.1"/>
<path d="M1269.65 864.9L1278.35 879.6L1260.95 879.6Z" fill="#1A6FDF"/>
<g font-family="'Noto Serif CJK SC','Liberation Serif',serif" fill="#000"><text x="1312.11" y="883" text-anchor="middle" font-family="'Liberation Sans','DejaVu Sans',sans-serif" font-weight="bold" font-size="20.9">σ</text><text x="1323.56" y="889.15" text-anchor="middle" font-size="12.21">x</text><text x="1333.32" y="882.6" text-anchor="middle" font-size="21.06">=</text><text x="1346.41" y="883" text-anchor="middle" font-family="'Liberation Sans','DejaVu Sans',sans-serif" font-weight="bold" font-size="20.9">σ</text><text x="1357.93" y="889.15" text-anchor="middle" font-size="12.21">y</text><text x="1367.69" y="882.6" text-anchor="middle" font-size="21.06">=</text><text x="1374.55" y="882.6" font-size="21.06" textLength="57.53" lengthAdjust="spacingAndGlyphs">30MPa</text></g>
<line x1="1244.8" y1="909.5" x2="1294.5" y2="909.5" stroke="#37AD6B" stroke-width="2.1"/>
<path d="M1269.65 919L1278.35 904.3L1260.95 904.3Z" fill="#37AD6B"/>
<g font-family="'Noto Serif CJK SC','Liberation Serif',serif" fill="#000"><text x="1312.11" y="918.1" text-anchor="middle" font-family="'Liberation Sans','DejaVu Sans',sans-serif" font-weight="bold" font-size="20.9">σ</text><text x="1323.56" y="924.25" text-anchor="middle" font-size="12.21">x</text><text x="1333.32" y="917.7" text-anchor="middle" font-size="21.06">=</text><text x="1346.41" y="918.1" text-anchor="middle" font-family="'Liberation Sans','DejaVu Sans',sans-serif" font-weight="bold" font-size="20.9">σ</text><text x="1357.93" y="924.25" text-anchor="middle" font-size="12.21">y</text><text x="1367.69" y="917.7" text-anchor="middle" font-size="21.06">=</text><text x="1374.78" y="917.7" font-size="21.06" textLength="57.3" lengthAdjust="spacingAndGlyphs">40MPa</text></g>
<line x1="1244.8" y1="944.4" x2="1294.5" y2="944.4" stroke="#B177DE" stroke-width="2.1"/>
<path d="M1269.65 935.6L1278.45 944.4L1269.65 953.2L1260.85 944.4Z" fill="#B177DE"/>
<g font-family="'Noto Serif CJK SC','Liberation Serif',serif" fill="#000"><text x="1312.11" y="953" text-anchor="middle" font-family="'Liberation Sans','DejaVu Sans',sans-serif" font-weight="bold" font-size="20.9">σ</text><text x="1323.56" y="959.15" text-anchor="middle" font-size="12.21">x</text><text x="1333.32" y="952.6" text-anchor="middle" font-size="21.06">=</text><text x="1346.41" y="953" text-anchor="middle" font-family="'Liberation Sans','DejaVu Sans',sans-serif" font-weight="bold" font-size="20.9">σ</text><text x="1357.93" y="959.15" text-anchor="middle" font-size="12.21">y</text><text x="1367.69" y="952.6" text-anchor="middle" font-size="21.06">=</text><text x="1374.6" y="952.6" font-size="21.06" textLength="57.47" lengthAdjust="spacingAndGlyphs">50MPa</text></g>
<polyline points="118.2,1641.5 248,1641.5 256.3,1643.9 262.4,1674.4 265.3,1780 272.7,1900 276.3,1963.7 283.9,1900 287.5,1831 290.5,1790 295.5,1752 301.2,1660 303.6,1627 310.8,1668.2 317,1643.5 323.1,1637.3 331.4,1630.1 337.6,1632.2 344.8,1642.5 350.9,1643.5 359.2,1654.8 366.4,1650.7 372.5,1650.7 380.8,1652.8 393.1,1650.7 399.3,1645.6 407.5,1639.4 413.7,1634.2 419.9,1620.9 427.1,1618.8 434.3,1633.2 440,1641.9 447.6,1642.3 454.2,1653.2 461.8,1660.8 468.3,1647.1 474.9,1644 482.5,1651 489,1657.6 496.2,1647.1 503.2,1652.1 509.7,1658.6 516.3,1659.3 523.9,1662.3 530.4,1654.9 537,1624.9 544.2,1615.7 551.1,1633.1 557.7,1627 565.3,1634.7 571.8,1649.9 578.4,1659.7 584.9,1656.5 592.5,1653.6 599.1,1658.6 606.7,1652.1 613.2,1653.2 620.9,1656.5 627.4,1656.5 633.9,1654.3 640.5,1657.1 647,1665.8 653.6,1666.7 660.1,1664.5 667.7,1659.3 675.3,1652.1 681.9,1649.3 688.4,1653.6 695,1653.2 702.6,1642.7 710.2,1643.4 716.7,1651 723.3,1658.6 729.8,1659.3 738.5,1656.5 749.4,1653.2 760.3,1654.3 771.2,1654.3 778.9,1658.6 785.4,1662.3 791.9,1660.2 798.5,1652.1" fill="none" stroke="#505050" stroke-width="2.3" stroke-linejoin="round" clip-path="url(#k5)"/>
<polyline points="118.2,1654.2 249.1,1654.2 254.8,1656.3 263,1697 264.82,1780 272.04,1900 276.15,1978.5 284.47,1900 287.83,1831 289.2,1800 295.5,1765 301.5,1680 303.2,1639.4 310.4,1667.2 317,1643.1 324.2,1638.4 331.4,1633.2 337.6,1630.1 344.8,1629.1 352,1621.9 360.2,1627 366.4,1631.2 372.5,1637.3 378.7,1643.1 385.9,1644.5 393.1,1646.6 399.3,1647.6 406.5,1647.2 412.7,1650.1 419.9,1651.7 427.1,1650.1 434.3,1657.9 440,1660.8 447.6,1660.8 454.2,1655.4 461.8,1652.1 468.3,1659.3 474.9,1662.3 482.5,1660.2 496.7,1660.8 503.2,1658.6 509.7,1660.2 516.3,1663 523.9,1663.7 530.4,1657.6 537,1646.7 544.2,1652.1 551.1,1647.1 557.7,1649.9 565.3,1660.8 571.8,1669.5 578.4,1670.6 584.9,1672.4 592.5,1666.7 599.1,1663.7 606.7,1663 618.7,1663 625.2,1660.8 632.9,1660.2 640.5,1664.1 647,1670.2 654.6,1670.6 662.3,1667.4 674.3,1665.2 681.9,1668 688.4,1671.1 696,1667.4 702.6,1666.7 710.2,1668.9 716.7,1668 723.3,1663 730.9,1662.3 738.5,1665.2 749.4,1666.3 758.2,1665.8 771.2,1669.5 784.3,1668.4 798.5,1664.5" fill="none" stroke="#F03C3C" stroke-width="2.3" stroke-linejoin="round" clip-path="url(#k5)"/>
<polyline points="118.2,1666.6 249.1,1666.6 255.2,1669.2 262,1710 264.42,1780 271.49,1900 276.03,1994 284.94,1900 288.11,1831 289.5,1810 296.5,1775 302,1690 303.2,1656.3 310.4,1673.4 317,1648.7 324.2,1641.5 331.4,1632.2 338.6,1627 344.8,1627 352,1613.7 360.2,1621.9 367.4,1629.1 372.5,1634.9 379.7,1639.4 386.9,1648 393.1,1649.7 399.3,1657.9 406.5,1665.7 412.7,1666.6 419.9,1664.5 427.1,1663.1 434.3,1667.2 440,1673.9 447.6,1675 454.2,1670.2 461.8,1666.7 469.4,1668.4 476,1668.4 483.6,1670.2 496.7,1665.8 503.2,1671.1 509.7,1672.8 516.3,1677.2 523.9,1687.6 530.4,1688.1 537,1676.1 544.2,1664.5 551.1,1666.3 557.7,1676.7 565.3,1684.1 571.8,1683.3 578.4,1678.3 584.9,1675.4 592.5,1672.8 606.7,1670.6 618.7,1670.2 632.9,1669.5 640.5,1672.8 647,1678.3 654.6,1678.9 662.3,1674.5 667.7,1672.4 674.3,1676.1 681.9,1678.9 688.4,1680.4 696,1683.3 702.6,1685.4 710.2,1683.7 716.7,1684.8 723.3,1683.3 730.9,1681.1 745.1,1676.7 756,1676.7 764.7,1674.5 771.2,1674.5 784.3,1676.1 798.5,1673.9" fill="none" stroke="#1A6FDF" stroke-width="2.3" stroke-linejoin="round" clip-path="url(#k5)"/>
<polyline points="118.2,1678.9 249.1,1678.9 255.2,1681.6 261.5,1718 264.1,1780 271.05,1900 275.93,2008.5 285.32,1900 288.33,1831 289.7,1820 297,1780 302.5,1700 303.2,1674.8 310.4,1674 317,1661 324.2,1650.7 331.4,1633.6 337.6,1634.2 343.7,1634.9 352,1623.3 360.2,1628.1 366.4,1631.2 372.5,1642.5 378.7,1653.8 385.9,1663.1 393.1,1671.3 400.3,1682.2 406.5,1685.1 413.7,1683.6 419.9,1681.6 427.1,1678.9 434.3,1680.1 440,1679.3 447.6,1681.5 454.2,1678.9 461.8,1678.9 469.4,1684.1 476,1683.7 482.5,1681.5 496.7,1688.1 503.2,1687.6 509.7,1688.1 516.3,1692 523.9,1696.3 530.4,1692.4 537,1683.7 544.2,1675 551.1,1678.3 557.7,1689.2 565.3,1696.8 571.8,1696.3 578.4,1691.3 584.9,1689.2 592.5,1685.9 606.7,1687.6 619.8,1686.3 632.9,1689.2 640.5,1689.8 647,1688.5 654.6,1686.3 662.3,1684.1 667.7,1683.3 674.3,1687.6 681.9,1692.4 688.4,1692.9 696,1690.7 710.2,1690.7 723.3,1689.2 730.9,1688.1 745.1,1687 762.5,1685.4 777.8,1688.1 798.5,1687.6" fill="none" stroke="#37AD6B" stroke-width="2.3" stroke-linejoin="round" clip-path="url(#k5)"/>
<polyline points="118.2,1691.3 249.1,1691.3 254.9,1693.8 261.4,1725.7 263.7,1780 270.5,1900 275.8,2041.3 285.8,1900 288.6,1831 297.7,1784.4 303.2,1685.7 310.4,1678.5 317,1666.1 324.2,1651.7 330.4,1636.3 337.6,1639 344.8,1639 352,1628.7 360.2,1636.3 366.4,1644.5 372.5,1655.9 378.7,1670.3 385.9,1682.6 392.1,1690.8 399.3,1697.4 406.5,1698.7 413.7,1696.6 419.9,1694.5 427.1,1693.3 434.3,1692.9 440,1691.3 447.6,1693.5 454.2,1693.5 461.8,1695.7 468.3,1700 474.9,1696.8 482.5,1696.8 489,1700 496.2,1696.8 503.2,1694.6 509.7,1699 516.3,1700.7 523.9,1703.3 530.4,1701.6 537,1692.4 544.2,1686.3 551.1,1690.2 557.7,1702.2 564.6,1712 571.8,1710.3 578.4,1705.5 584.9,1702.9 592.5,1700 606.7,1700 619.8,1697.2 632.9,1700 647,1696.3 654.6,1694.2 662.3,1692.4 667.7,1693.5 675.3,1699 681.9,1703.8 688.4,1705.1 696,1704.4 703.7,1703.8 710.2,1702.2 716.7,1700 730.9,1699 745.1,1696.8 749.4,1696.1 762.5,1697.2 777.8,1699.4 798.5,1699.4" fill="none" stroke="#B177DE" stroke-width="2.3" stroke-linejoin="round" clip-path="url(#k5)"/>
<path d="M255.2 2060.5V1633.2 H305 L311 1638.6 V2052.1 L307.4 2060.5 Z" fill="none" stroke="#FF0000" stroke-width="2.2" stroke-dasharray="12.5 14" stroke-dashoffset="0"/>
<text x="408.48" y="2195" font-family="'Liberation Serif','Times New Roman',serif" font-size="28.54" fill="#000">Time/us</text>
<text transform="translate(20.8,1975.75) rotate(-90)" font-family="'Liberation Serif','Times New Roman',serif" font-size="28.15" fill="#000">Circumferential stress/MPa</text>
<line x1="542.3" y1="1876.4" x2="601.9" y2="1876.4" stroke="#505050" stroke-width="2.3"/>
<g font-family="'Noto Serif CJK SC','Liberation Serif',serif" fill="#000"><text x="623.67" y="1887.4" text-anchor="middle" font-family="'Liberation Sans','DejaVu Sans',sans-serif" font-weight="bold" font-size="25.58">σ</text><text x="637.7" y="1895.01" text-anchor="middle" font-size="14.95">x</text><text x="649.64" y="1887" text-anchor="middle" font-size="25.78">=</text><text x="665.67" y="1887.4" text-anchor="middle" font-family="'Liberation Sans','DejaVu Sans',sans-serif" font-weight="bold" font-size="25.58">σ</text><text x="679.77" y="1895.01" text-anchor="middle" font-size="14.95">y</text><text x="691.71" y="1887" text-anchor="middle" font-size="25.78">=</text><text x="699.56" y="1887" font-size="25.78" textLength="70.96" lengthAdjust="spacingAndGlyphs">10MPa</text></g>
<line x1="542.3" y1="1920.3" x2="601.9" y2="1920.3" stroke="#F03C3C" stroke-width="2.3"/>
<g font-family="'Noto Serif CJK SC','Liberation Serif',serif" fill="#000"><text x="623.67" y="1931.3" text-anchor="middle" font-family="'Liberation Sans','DejaVu Sans',sans-serif" font-weight="bold" font-size="25.58">σ</text><text x="637.7" y="1938.91" text-anchor="middle" font-size="14.95">x</text><text x="649.64" y="1930.9" text-anchor="middle" font-size="25.78">=</text><text x="665.67" y="1931.3" text-anchor="middle" font-family="'Liberation Sans','DejaVu Sans',sans-serif" font-weight="bold" font-size="25.58">σ</text><text x="679.77" y="1938.91" text-anchor="middle" font-size="14.95">y</text><text x="691.71" y="1930.9" text-anchor="middle" font-size="25.78">=</text><text x="699.73" y="1930.9" font-size="25.78" textLength="70.78" lengthAdjust="spacingAndGlyphs">20MPa</text></g>
<line x1="542.3" y1="1963.9" x2="601.9" y2="1963.9" stroke="#1A6FDF" stroke-width="2.3"/>
<g font-family="'Noto Serif CJK SC','Liberation Serif',serif" fill="#000"><text x="623.67" y="1974.9" text-anchor="middle" font-family="'Liberation Sans','DejaVu Sans',sans-serif" font-weight="bold" font-size="25.58">σ</text><text x="637.7" y="1982.51" text-anchor="middle" font-size="14.95">x</text><text x="649.64" y="1974.5" text-anchor="middle" font-size="25.78">=</text><text x="665.67" y="1974.9" text-anchor="middle" font-family="'Liberation Sans','DejaVu Sans',sans-serif" font-weight="bold" font-size="25.58">σ</text><text x="679.77" y="1982.51" text-anchor="middle" font-size="14.95">y</text><text x="691.71" y="1974.5" text-anchor="middle" font-size="25.78">=</text><text x="700.1" y="1974.5" font-size="25.78" textLength="70.41" lengthAdjust="spacingAndGlyphs">30MPa</text></g>
<line x1="542.3" y1="2007.7" x2="601.9" y2="2007.7" stroke="#37AD6B" stroke-width="2.3"/>
<g font-family="'Noto Serif CJK SC','Liberation Serif',serif" fill="#000"><text x="623.67" y="2018.7" text-anchor="middle" font-family="'Liberation Sans','DejaVu Sans',sans-serif" font-weight="bold" font-size="25.58">σ</text><text x="637.7" y="2026.31" text-anchor="middle" font-size="14.95">x</text><text x="649.64" y="2018.3" text-anchor="middle" font-size="25.78">=</text><text x="665.67" y="2018.7" text-anchor="middle" font-family="'Liberation Sans','DejaVu Sans',sans-serif" font-weight="bold" font-size="25.58">σ</text><text x="679.77" y="2026.31" text-anchor="middle" font-size="14.95">y</text><text x="691.71" y="2018.3" text-anchor="middle" font-size="25.78">=</text><text x="700.38" y="2018.3" font-size="25.78" textLength="70.13" lengthAdjust="spacingAndGlyphs">40MPa</text></g>
<line x1="542.3" y1="2051.4" x2="601.9" y2="2051.4" stroke="#B177DE" stroke-width="2.3"/>
<g font-family="'Noto Serif CJK SC','Liberation Serif',serif" fill="#000"><text x="623.67" y="2062.4" text-anchor="middle" font-family="'Liberation Sans','DejaVu Sans',sans-serif" font-weight="bold" font-size="25.58">σ</text><text x="637.7" y="2070.01" text-anchor="middle" font-size="14.95">x</text><text x="649.64" y="2062" text-anchor="middle" font-size="25.78">=</text><text x="665.67" y="2062.4" text-anchor="middle" font-family="'Liberation Sans','DejaVu Sans',sans-serif" font-weight="bold" font-size="25.58">σ</text><text x="679.77" y="2070.01" text-anchor="middle" font-size="14.95">y</text><text x="691.71" y="2062" text-anchor="middle" font-size="25.78">=</text><text x="700.17" y="2062" font-size="25.78" textLength="70.35" lengthAdjust="spacingAndGlyphs">50MPa</text></g>
<polyline points="1014.5,1646.7 1088.6,1675.3 1165.6,1817.6 1238.4,1976.3 1315.3,1929.6 1389.5,1803.6 1463.9,1733.4 1539.4,1630.4 1615,1675.5 1687.6,1645.5" fill="none" stroke="#505050" stroke-width="1.6" stroke-linejoin="round" clip-path="url(#k6)"/>
<polyline points="1014.5,1659 1088.6,1688.1 1165.6,1834 1238.4,1992.7 1315.3,1939.3 1389.5,1810.3 1463.9,1750.5 1539.4,1642.4 1615,1676 1687.6,1645.5" fill="none" stroke="#F03C3C" stroke-width="1.6" stroke-linejoin="round" clip-path="url(#k6)"/>
<polyline points="1014.5,1671.2 1088.6,1701.8 1165.6,1844.3 1238.4,2010 1315.3,1948.6 1389.5,1815.6 1463.9,1765.5 1539.4,1658.8 1615,1674.5 1687.6,1647.9" fill="none" stroke="#1A6FDF" stroke-width="1.6" stroke-linejoin="round" clip-path="url(#k6)"/>
<polyline points="1014.5,1684.4 1088.6,1716.3 1165.6,1863.9 1238.4,2026 1315.3,1958.8 1389.5,1825.8 1463.9,1775.7 1539.4,1677.8 1615,1676.5 1687.6,1658.1" fill="none" stroke="#37AD6B" stroke-width="1.6" stroke-linejoin="round" clip-path="url(#k6)"/>
<polyline points="1014.5,1696.4 1088.6,1730.4 1165.6,1874.3 1238.4,2040.3 1315.3,1971 1389.5,1833.5 1463.9,1786.2 1539.4,1687.6 1615,1682.2 1687.6,1668" fill="none" stroke="#B177DE" stroke-width="1.6" stroke-linejoin="round" clip-path="url(#k6)"/>
<g clip-path="url(#m6)">
<rect x="1008.2" y="1640.4" width="12.6" height="12.6" fill="#505050"/>
<rect x="1082.3" y="1669" width="12.6" height="12.6" fill="#505050"/>
<rect x="1159.3" y="1811.3" width="12.6" height="12.6" fill="#505050"/>
<rect x="1232.1" y="1970" width="12.6" height="12.6" fill="#505050"/>
<rect x="1309" y="1923.3" width="12.6" height="12.6" fill="#505050"/>
<rect x="1383.2" y="1797.3" width="12.6" height="12.6" fill="#505050"/>
<rect x="1457.6" y="1727.1" width="12.6" height="12.6" fill="#505050"/>
<rect x="1533.1" y="1624.1" width="12.6" height="12.6" fill="#505050"/>
<rect x="1608.7" y="1669.2" width="12.6" height="12.6" fill="#505050"/>
<rect x="1681.3" y="1639.2" width="12.6" height="12.6" fill="#505050"/>
<circle cx="1014.5" cy="1659" r="7" fill="#F03C3C"/>
<circle cx="1088.6" cy="1688.1" r="7" fill="#F03C3C"/>
<circle cx="1165.6" cy="1834" r="7" fill="#F03C3C"/>
<circle cx="1238.4" cy="1992.7" r="7" fill="#F03C3C"/>
<circle cx="1315.3" cy="1939.3" r="7" fill="#F03C3C"/>
<circle cx="1389.5" cy="1810.3" r="7" fill="#F03C3C"/>
<circle cx="1463.9" cy="1750.5" r="7" fill="#F03C3C"/>
<circle cx="1539.4" cy="1642.4" r="7" fill="#F03C3C"/>
<circle cx="1615" cy="1676" r="7" fill="#F03C3C"/>
<circle cx="1687.6" cy="1645.5" r="7" fill="#F03C3C"/>
<path d="M1014.5 1661.7L1023.2 1676.4L1005.8 1676.4Z" fill="#1A6FDF"/>
<path d="M1088.6 1692.3L1097.3 1707L1079.9 1707Z" fill="#1A6FDF"/>
<path d="M1165.6 1834.8L1174.3 1849.5L1156.9 1849.5Z" fill="#1A6FDF"/>
<path d="M1238.4 2000.5L1247.1 2015.2L1229.7 2015.2Z" fill="#1A6FDF"/>
<path d="M1315.3 1939.1L1324 1953.8L1306.6 1953.8Z" fill="#1A6FDF"/>
<path d="M1389.5 1806.1L1398.2 1820.8L1380.8 1820.8Z" fill="#1A6FDF"/>
<path d="M1463.9 1756L1472.6 1770.7L1455.2 1770.7Z" fill="#1A6FDF"/>
<path d="M1539.4 1649.3L1548.1 1664L1530.7 1664Z" fill="#1A6FDF"/>
<path d="M1615 1665L1623.7 1679.7L1606.3 1679.7Z" fill="#1A6FDF"/>
<path d="M1687.6 1638.4L1696.3 1653.1L1678.9 1653.1Z" fill="#1A6FDF"/>
<path d="M1014.5 1693.9L1023.2 1679.2L1005.8 1679.2Z" fill="#37AD6B"/>
<path d="M1088.6 1725.8L1097.3 1711.1L1079.9 1711.1Z" fill="#37AD6B"/>
<path d="M1165.6 1873.4L1174.3 1858.7L1156.9 1858.7Z" fill="#37AD6B"/>
<path d="M1238.4 2035.5L1247.1 2020.8L1229.7 2020.8Z" fill="#37AD6B"/>
<path d="M1315.3 1968.3L1324 1953.6L1306.6 1953.6Z" fill="#37AD6B"/>
<path d="M1389.5 1835.3L1398.2 1820.6L1380.8 1820.6Z" fill="#37AD6B"/>
<path d="M1463.9 1785.2L1472.6 1770.5L1455.2 1770.5Z" fill="#37AD6B"/>
<path d="M1539.4 1687.3L1548.1 1672.6L1530.7 1672.6Z" fill="#37AD6B"/>
<path d="M1615 1686L1623.7 1671.3L1606.3 1671.3Z" fill="#37AD6B"/>
<path d="M1687.6 1667.6L1696.3 1652.9L1678.9 1652.9Z" fill="#37AD6B"/>
<path d="M1014.5 1687.6L1023.3 1696.4L1014.5 1705.2L1005.7 1696.4Z" fill="#B177DE"/>
<path d="M1088.6 1721.6L1097.4 1730.4L1088.6 1739.2L1079.8 1730.4Z" fill="#B177DE"/>
<path d="M1165.6 1865.5L1174.4 1874.3L1165.6 1883.1L1156.8 1874.3Z" fill="#B177DE"/>
<path d="M1238.4 2031.5L1247.2 2040.3L1238.4 2049.1L1229.6 2040.3Z" fill="#B177DE"/>
<path d="M1315.3 1962.2L1324.1 1971L1315.3 1979.8L1306.5 1971Z" fill="#B177DE"/>
<path d="M1389.5 1824.7L1398.3 1833.5L1389.5 1842.3L1380.7 1833.5Z" fill="#B177DE"/>
<path d="M1463.9 1777.4L1472.7 1786.2L1463.9 1795L1455.1 1786.2Z" fill="#B177DE"/>
<path d="M1539.4 1678.8L1548.2 1687.6L1539.4 1696.4L1530.6 1687.6Z" fill="#B177DE"/>
<path d="M1615 1673.4L1623.8 1682.2L1615 1691L1606.2 1682.2Z" fill="#B177DE"/>
<path d="M1687.6 1659.2L1696.4 1668L1687.6 1676.8L1678.8 1668Z" fill="#B177DE"/>
</g>
<text x="1307.89" y="2190.7" font-family="'Liberation Serif','Times New Roman',serif" font-size="28.42" fill="#000">Time/us</text>
<text transform="translate(938.2,2005.29) rotate(-90)" font-family="'Liberation Serif','Times New Roman',serif" font-size="28.9" fill="#000">Circumferential stress/MPa</text>
<line x1="1241" y1="1592.2" x2="1290.1" y2="1592.2" stroke="#505050" stroke-width="1.6"/>
<rect x="1259.25" y="1585.9" width="12.6" height="12.6" fill="#505050"/>
<g font-family="'Noto Serif CJK SC','Liberation Serif',serif" fill="#000"><text x="1307.68" y="1600.1" text-anchor="middle" font-family="'Liberation Sans','DejaVu Sans',sans-serif" font-weight="bold" font-size="20.8">σ</text><text x="1319.08" y="1606.22" text-anchor="middle" font-size="12.15">x</text><text x="1328.79" y="1599.7" text-anchor="middle" font-size="20.96">=</text><text x="1341.82" y="1600.1" text-anchor="middle" font-family="'Liberation Sans','DejaVu Sans',sans-serif" font-weight="bold" font-size="20.8">σ</text><text x="1353.29" y="1606.22" text-anchor="middle" font-size="12.15">y</text><text x="1363" y="1599.7" text-anchor="middle" font-size="20.96">=</text><text x="1369.38" y="1599.7" font-size="20.96" textLength="57.7" lengthAdjust="spacingAndGlyphs">10MPa</text></g>
<line x1="1241" y1="1627.9" x2="1290.1" y2="1627.9" stroke="#F03C3C" stroke-width="1.6"/>
<circle cx="1265.55" cy="1627.9" r="7" fill="#F03C3C"/>
<g font-family="'Noto Serif CJK SC','Liberation Serif',serif" fill="#000"><text x="1307.68" y="1635.8" text-anchor="middle" font-family="'Liberation Sans','DejaVu Sans',sans-serif" font-weight="bold" font-size="20.8">σ</text><text x="1319.08" y="1641.92" text-anchor="middle" font-size="12.15">x</text><text x="1328.79" y="1635.4" text-anchor="middle" font-size="20.96">=</text><text x="1341.82" y="1635.8" text-anchor="middle" font-family="'Liberation Sans','DejaVu Sans',sans-serif" font-weight="bold" font-size="20.8">σ</text><text x="1353.29" y="1641.92" text-anchor="middle" font-size="12.15">y</text><text x="1363" y="1635.4" text-anchor="middle" font-size="20.96">=</text><text x="1369.52" y="1635.4" font-size="20.96" textLength="57.56" lengthAdjust="spacingAndGlyphs">20MPa</text></g>
<line x1="1241" y1="1663" x2="1290.1" y2="1663" stroke="#1A6FDF" stroke-width="1.6"/>
<path d="M1265.55 1653.5L1274.25 1668.2L1256.85 1668.2Z" fill="#1A6FDF"/>
<g font-family="'Noto Serif CJK SC','Liberation Serif',serif" fill="#000"><text x="1307.68" y="1670.9" text-anchor="middle" font-family="'Liberation Sans','DejaVu Sans',sans-serif" font-weight="bold" font-size="20.8">σ</text><text x="1319.08" y="1677.02" text-anchor="middle" font-size="12.15">x</text><text x="1328.79" y="1670.5" text-anchor="middle" font-size="20.96">=</text><text x="1341.82" y="1670.9" text-anchor="middle" font-family="'Liberation Sans','DejaVu Sans',sans-serif" font-weight="bold" font-size="20.8">σ</text><text x="1353.29" y="1677.02" text-anchor="middle" font-size="12.15">y</text><text x="1363" y="1670.5" text-anchor="middle" font-size="20.96">=</text><text x="1369.82" y="1670.5" font-size="20.96" textLength="57.25" lengthAdjust="spacingAndGlyphs">30MPa</text></g>
<line x1="1241" y1="1698.1" x2="1290.1" y2="1698.1" stroke="#37AD6B" stroke-width="1.6"/>
<path d="M1265.55 1707.6L1274.25 1692.9L1256.85 1692.9Z" fill="#37AD6B"/>
<g font-family="'Noto Serif CJK SC','Liberation Serif',serif" fill="#000"><text x="1307.68" y="1706" text-anchor="middle" font-family="'Liberation Sans','DejaVu Sans',sans-serif" font-weight="bold" font-size="20.8">σ</text><text x="1319.08" y="1712.12" text-anchor="middle" font-size="12.15">x</text><text x="1328.79" y="1705.6" text-anchor="middle" font-size="20.96">=</text><text x="1341.82" y="1706" text-anchor="middle" font-family="'Liberation Sans','DejaVu Sans',sans-serif" font-weight="bold" font-size="20.8">σ</text><text x="1353.29" y="1712.12" text-anchor="middle" font-size="12.15">y</text><text x="1363" y="1705.6" text-anchor="middle" font-size="20.96">=</text><text x="1370.05" y="1705.6" font-size="20.96" textLength="57.02" lengthAdjust="spacingAndGlyphs">40MPa</text></g>
<line x1="1241" y1="1733.8" x2="1290.1" y2="1733.8" stroke="#B177DE" stroke-width="1.6"/>
<path d="M1265.55 1725L1274.35 1733.8L1265.55 1742.6L1256.75 1733.8Z" fill="#B177DE"/>
<g font-family="'Noto Serif CJK SC','Liberation Serif',serif" fill="#000"><text x="1307.68" y="1741.7" text-anchor="middle" font-family="'Liberation Sans','DejaVu Sans',sans-serif" font-weight="bold" font-size="20.8">σ</text><text x="1319.08" y="1747.82" text-anchor="middle" font-size="12.15">x</text><text x="1328.79" y="1741.3" text-anchor="middle" font-size="20.96">=</text><text x="1341.82" y="1741.7" text-anchor="middle" font-family="'Liberation Sans','DejaVu Sans',sans-serif" font-weight="bold" font-size="20.8">σ</text><text x="1353.29" y="1747.82" text-anchor="middle" font-size="12.15">y</text><text x="1363" y="1741.3" text-anchor="middle" font-size="20.96">=</text><text x="1369.87" y="1741.3" font-size="20.96" textLength="57.2" lengthAdjust="spacingAndGlyphs">50MPa</text></g>
<text x="756.38" y="724.2" font-family="'Liberation Serif','Times New Roman',serif" font-size="41.5" fill="#000">(Point D)</text>
<text x="801.78" y="1491.8" font-family="'Liberation Serif','Times New Roman',serif" font-size="41.5" fill="#000">(Point E)</text>
<text x="781.18" y="2277.5" font-family="'Liberation Serif','Times New Roman',serif" font-size="41.5" fill="#000">(Point F)</text>
</svg></body></html>
